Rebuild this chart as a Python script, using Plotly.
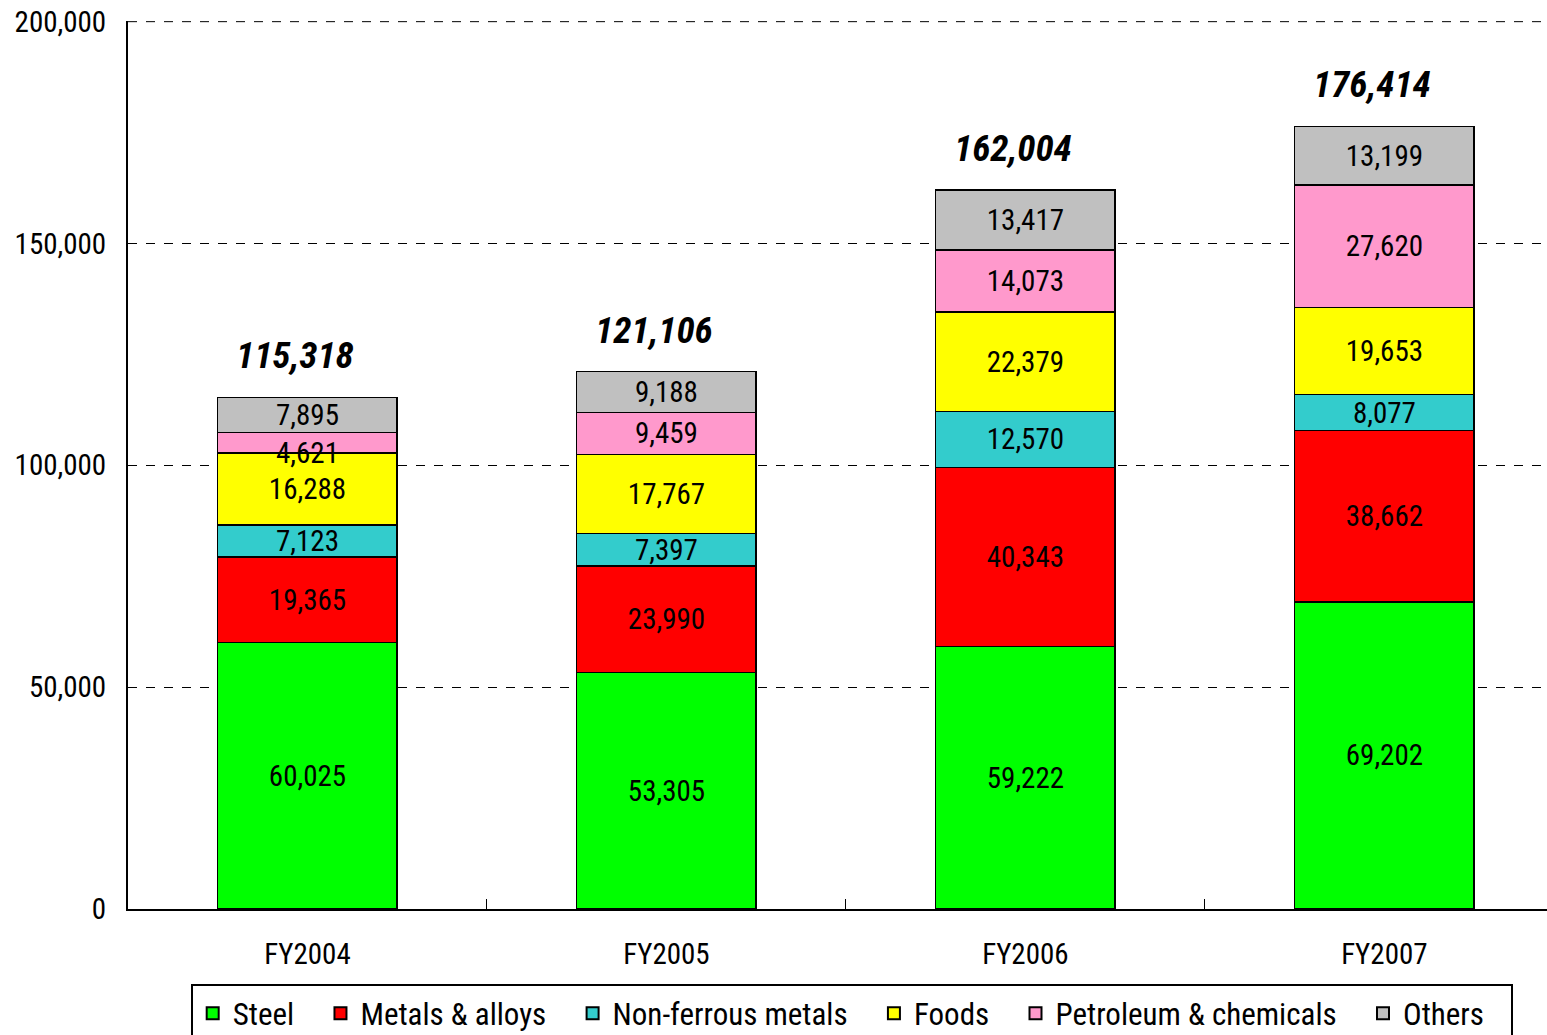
import plotly.graph_objects as go

categories = ["FY2004", "FY2005", "FY2006", "FY2007"]
steel = [60025, 53305, 59222, 69202]
metals = [19365, 23990, 40343, 38662]
nonferrous = [7123, 7397, 12570, 8077]
foods = [16288, 17767, 22379, 19653]
petro = [4621, 9459, 14073, 27620]
others = [7895, 9188, 13417, 13199]
totals = [115318, 121106, 162004, 176414]
y_ticks = [0, 50000, 100000, 150000, 200000]

series = [
    ("Steel", steel, "#00FF00"),
    ("Metals & alloys", metals, "#FF0000"),
    ("Non-ferrous metals", nonferrous, "#33CCCC"),
    ("Foods", foods, "#FFFF00"),
    ("Petroleum & chemicals", petro, "#FF99CC"),
    ("Others", others, "#C0C0C0"),
]

FONT = "Roboto Condensed, Liberation Sans Narrow, Noto Sans CJK JP, sans-serif"
PAD = "\u00a0\u00a0\u00a0"
THIN = 6000  # segments thinner than this get their label nudged down, as in the original

fig = go.Figure()
base = [0] * len(categories)
for name, vals, color in series:
    texts = []
    for i, v in enumerate(vals):
        if v < THIN:
            texts.append("")
            fig.add_annotation(
                x=categories[i], y=base[i] + v / 2, text=f"{v:,}", showarrow=False,
                yshift=-10, font=dict(size=29, color="black", family=FONT),
            )
        else:
            texts.append(f"{v:,}")
        base[i] += v
    fig.add_trace(go.Bar(
        name=name + PAD, x=categories, y=vals,
        marker=dict(color=color, line=dict(color="black", width=1.5)),
        text=texts,
        textposition="inside", insidetextanchor="middle",
        constraintext="none",
        textfont=dict(size=29, color="black", family=FONT),
        width=0.5,
    ))

for c, t in zip(categories, totals):
    fig.add_annotation(
        x=c, y=t, text=f"<b><i>{t:,}</i></b>", showarrow=False,
        yanchor="bottom", yshift=18, xshift=-12,
        font=dict(size=37, color="black", family=FONT),
    )

# top gridline (at the range edge)
fig.add_shape(type="line", xref="paper", x0=0, x1=1, yref="y", y0=y_ticks[-1], y1=y_ticks[-1],
              line=dict(color="black", width=1, dash="dash"), layer="below")

fig.update_layout(
    barmode="stack",
    width=1547, height=1035,
    margin=dict(l=128, r=0, t=21, b=126, autoexpand=False),
    plot_bgcolor="white", paper_bgcolor="white",
    font=dict(family=FONT, size=29, color="black"),
    bargap=0.5,
    legend=dict(
        orientation="h", x=0.51, xanchor="center", y=-0.085, yanchor="top",
        bordercolor="black", borderwidth=2,
        font=dict(size=31, family=FONT),
        traceorder="normal", itemsizing="constant",
    ),
    showlegend=True,
)
fig.update_xaxes(
    range=[-0.5, 3.453], showline=True, linecolor="black", linewidth=2,
    ticks="inside", tickson="boundaries", ticklen=10, tickcolor="black",
    showgrid=False, tickfont=dict(size=29, family=FONT),
    automargin=False, ticklabelstandoff=18,
)
fig.update_yaxes(
    range=[0, 200150], tickvals=y_ticks, tickformat=",",
    showline=True, linecolor="black", linewidth=2,
    showgrid=True, gridcolor="black", griddash="dash", gridwidth=1,
    zeroline=False, ticks="", tickfont=dict(size=29, family=FONT),
    automargin=False, ticklabelstandoff=14,
)

fig.write_html(
    "out.html",
    config={"displayModeBar": False},
    post_script="document.body.style.margin='0px';document.body.style.overflow='hidden';",
)
